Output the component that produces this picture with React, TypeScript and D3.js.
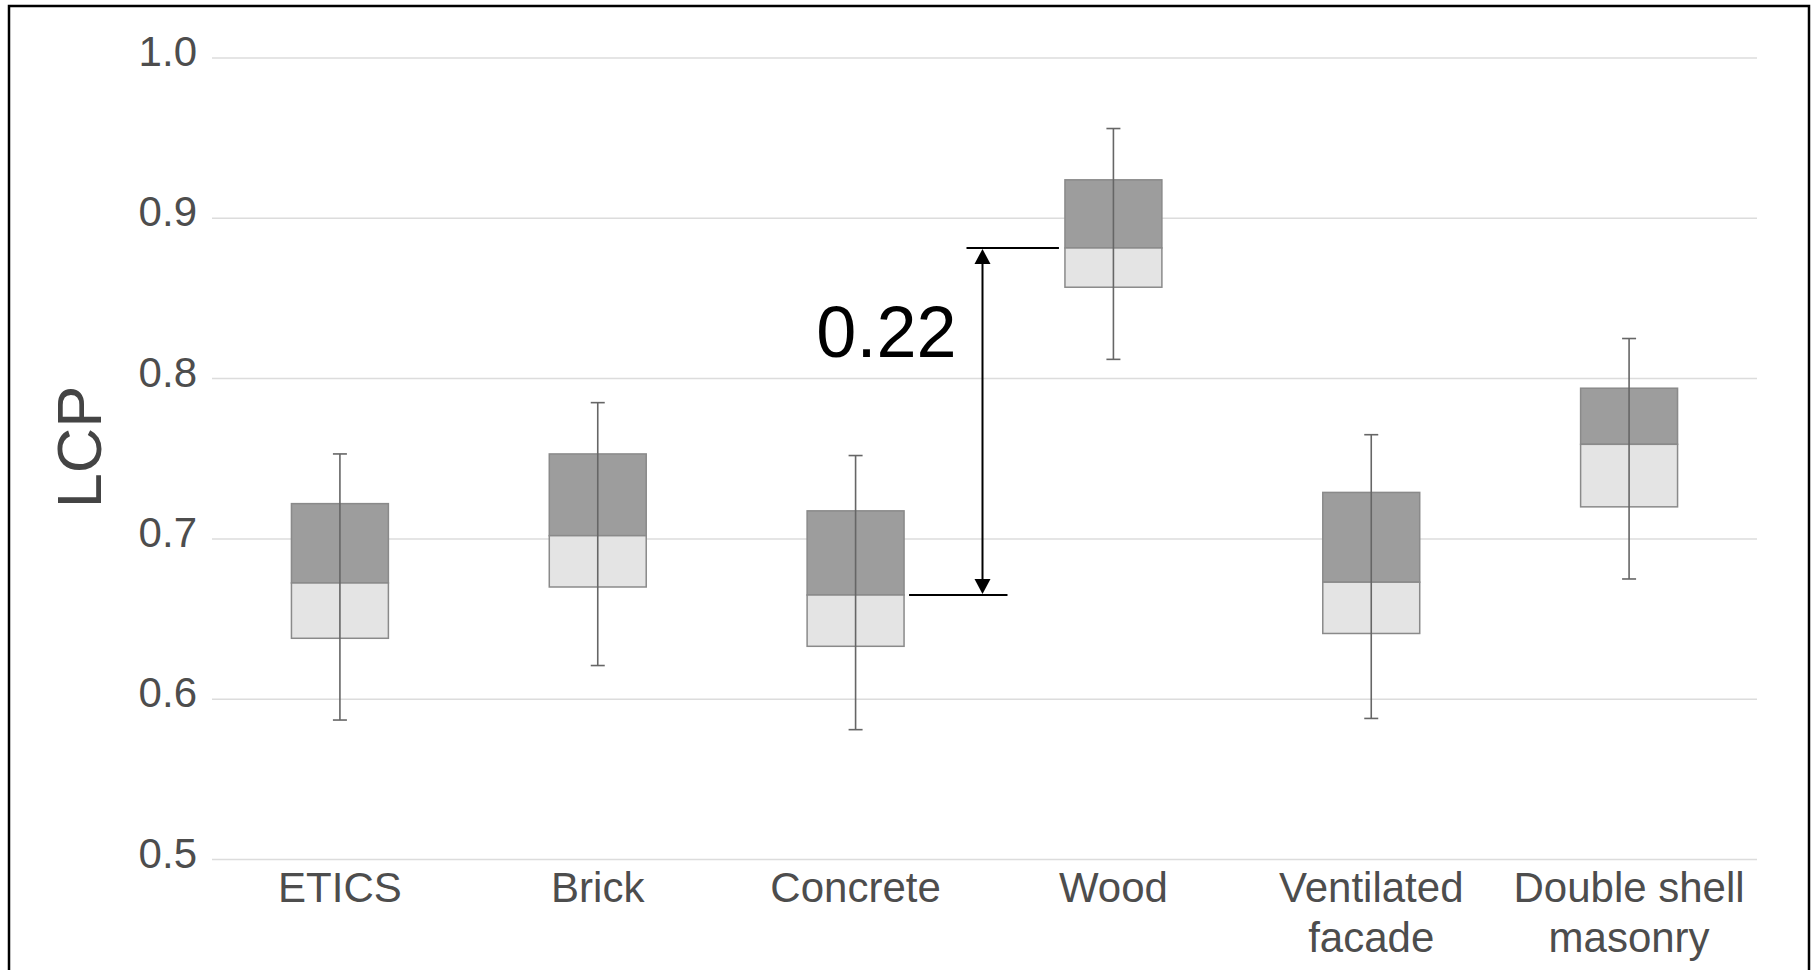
import { useEffect, useRef } from "react";
import * as d3 from "d3";

// LCP per facade type
const categories = ["ETICS", "Brick", "Concrete", "Wood", "Ventilated facade", "Double shell masonry"];
const labelLines = [["ETICS"], ["Brick"], ["Concrete"], ["Wood"], ["Ventilated", "facade"], ["Double shell", "masonry"]];
const whiskerLow = [0.587, 0.621, 0.581, 0.812, 0.588, 0.675];
const q1 = [0.638, 0.67, 0.633, 0.857, 0.641, 0.72];
const median = [0.6725, 0.702, 0.665, 0.8815, 0.673, 0.759];
const q3 = [0.722, 0.753, 0.7175, 0.924, 0.729, 0.794];
const whiskerHigh = [0.753, 0.785, 0.752, 0.956, 0.765, 0.825];
const yTicks = [0.5, 0.6, 0.7, 0.8, 0.9, 1.0];

const W = 1812;
const H = 970;

function App() {
  const ref = useRef<SVGSVGElement>(null);

  useEffect(() => {
    const svg = d3.select(ref.current);
    svg.selectAll("*").remove();
    const font = "'Liberation Sans', Arial, sans-serif";

    const x = d3.scaleBand<string>().domain(categories).range([211, 1758]).padding(0);
    const y = d3.scaleLinear().domain([0.5, 1.0]).range([859.5, 58]);
    const bw = x.bandwidth() * 0.376;
    const cx = (c: string) => (x(c) as number) + x.bandwidth() / 2;

    // frame
    svg
      .append("rect")
      .attr("x", 9)
      .attr("y", 6)
      .attr("width", 1800)
      .attr("height", 1000)
      .attr("fill", "none")
      .attr("stroke", "#000")
      .attr("stroke-width", 2.5);

    // gridlines + y labels
    const grid = svg.append("g");
    grid
      .selectAll("line")
      .data(yTicks)
      .enter()
      .append("line")
      .attr("x1", 212)
      .attr("x2", 1757)
      .attr("y1", (d) => y(d))
      .attr("y2", (d) => y(d))
      .attr("stroke", "#dcdcdc")
      .attr("stroke-width", 1.5);
    grid
      .selectAll("text")
      .data(yTicks)
      .enter()
      .append("text")
      .attr("x", 197)
      .attr("y", (d) => y(d) + 8)
      .attr("text-anchor", "end")
      .attr("font-family", font)
      .attr("font-size", 42)
      .attr("fill", "#4d4d4d")
      .text((d) => d3.format(".1f")(d));

    // y title
    svg
      .append("text")
      .attr("transform", "translate(101,447) rotate(-90)")
      .attr("text-anchor", "middle")
      .attr("font-family", font)
      .attr("font-size", 63)
      .attr("fill", "#444")
      .text("LCP");

    // boxes
    const idx = categories.map((_, i) => i);
    const boxes = svg.append("g");
    boxes
      .selectAll("rect.upper")
      .data(idx)
      .enter()
      .append("rect")
      .attr("x", (i) => cx(categories[i]) - bw / 2)
      .attr("y", (i) => y(q3[i]))
      .attr("width", bw)
      .attr("height", (i) => y(median[i]) - y(q3[i]))
      .attr("fill", "#9d9d9d")
      .attr("stroke", "#8a8a8a")
      .attr("stroke-width", 1.5);
    boxes
      .selectAll("rect.lower")
      .data(idx)
      .enter()
      .append("rect")
      .attr("x", (i) => cx(categories[i]) - bw / 2)
      .attr("y", (i) => y(median[i]))
      .attr("width", bw)
      .attr("height", (i) => y(q1[i]) - y(median[i]))
      .attr("fill", "#e4e4e4")
      .attr("stroke", "#8a8a8a")
      .attr("stroke-width", 1.5);

    // whiskers drawn over the boxes
    const wh = svg.append("g").attr("stroke", "#666").attr("stroke-width", 1.6);
    idx.forEach((i) => {
      const c = cx(categories[i]);
      wh.append("line").attr("x1", c).attr("x2", c).attr("y1", y(whiskerHigh[i])).attr("y2", y(whiskerLow[i]));
      [whiskerHigh[i], whiskerLow[i]].forEach((v) => {
        wh.append("line").attr("x1", c - 7).attr("x2", c + 7).attr("y1", y(v)).attr("y2", y(v));
      });
    });

    // category labels
    const xl = svg.append("g");
    idx.forEach((i) => {
      const t = xl
        .append("text")
        .attr("text-anchor", "middle")
        .attr("font-family", font)
        .attr("font-size", 42)
        .attr("fill", "#4d4d4d");
      labelLines[i].forEach((ln, k) => {
        t.append("tspan").attr("x", cx(categories[i])).attr("y", 902 + k * 50).text(ln);
      });
    });

    // annotation: gap between Concrete and Wood medians
    const lo = median[2];
    const hi = median[3];
    const ax = (cx(categories[2]) + cx(categories[3])) / 2 - 2;
    const ann = svg.append("g").attr("stroke", "#000").attr("stroke-width", 2);
    ann
      .append("line")
      .attr("x1", cx(categories[2]) + bw / 2 + 5)
      .attr("x2", ax + 25)
      .attr("y1", y(lo))
      .attr("y2", y(lo));
    ann
      .append("line")
      .attr("x1", ax - 16)
      .attr("x2", cx(categories[3]) - bw / 2 - 6)
      .attr("y1", y(hi))
      .attr("y2", y(hi));
    ann
      .append("line")
      .attr("x1", ax)
      .attr("x2", ax)
      .attr("y1", y(hi) + 12)
      .attr("y2", y(lo) - 12);
    svg
      .append("path")
      .attr("d", `M${ax},${y(hi) + 1} L${ax - 8},${y(hi) + 16} L${ax + 8},${y(hi) + 16} Z`)
      .attr("fill", "#000");
    svg
      .append("path")
      .attr("d", `M${ax},${y(lo) - 1} L${ax - 8},${y(lo) - 16} L${ax + 8},${y(lo) - 16} Z`)
      .attr("fill", "#000");
    svg
      .append("text")
      .attr("x", ax - 26)
      .attr("y", y(hi) + 109)
      .attr("text-anchor", "end")
      .attr("font-family", font)
      .attr("font-size", 72)
      .attr("fill", "#000")
      .text(d3.format(".2f")(hi - lo));
  }, []);

  return (
    <div style={{ position: "absolute", left: 0, top: 0, width: W, height: H, overflow: "hidden", background: "#fff" }}>
      <svg ref={ref} width={W} height={H} style={{ display: "block" }}></svg>
    </div>
  );
}

export default App;
